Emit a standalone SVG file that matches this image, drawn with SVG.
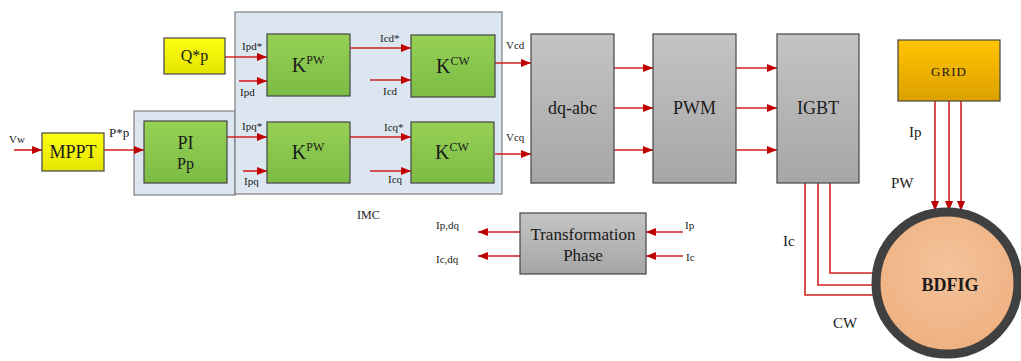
<svg xmlns="http://www.w3.org/2000/svg" width="1021" height="361" viewBox="0 0 1021 361" font-family="'Liberation Serif', serif">
<defs>
<linearGradient id="gGreen" x1="0" y1="0" x2="0" y2="1"><stop offset="0" stop-color="#96d155"/><stop offset="1" stop-color="#7cbb45"/></linearGradient>
<linearGradient id="gYellow" x1="0" y1="0" x2="0" y2="1"><stop offset="0" stop-color="#ffff10"/><stop offset="1" stop-color="#e4e400"/></linearGradient>
<linearGradient id="gGray" x1="0" y1="0" x2="0" y2="1"><stop offset="0" stop-color="#c4c4c4"/><stop offset="1" stop-color="#a6a6a6"/></linearGradient>
<linearGradient id="gGrid" x1="0" y1="0" x2="0" y2="1"><stop offset="0" stop-color="#ffc400"/><stop offset="1" stop-color="#dca000"/></linearGradient>
<radialGradient id="gMotor" cx="0.5" cy="0.4" r="0.6"><stop offset="0" stop-color="#f4c39a"/><stop offset="1" stop-color="#eeb080"/></radialGradient>
<marker id="arr" markerWidth="10" markerHeight="8" refX="10" refY="4" orient="auto" markerUnits="userSpaceOnUse"><path d="M0,0 L10,4 L0,8 Z" fill="#c00000"/></marker>
<style>
.blk{stroke:#454545;stroke-width:1.2}
.grn{fill:url(#gGreen)}
.yel{fill:url(#gYellow)}
.gry{fill:url(#gGray)}
.cont{fill:#dce6f1;stroke:#7f7f7f;stroke-width:1.2}
.ln{fill:none;stroke:#d42020;stroke-width:1.6}
.ar{fill:none;stroke:#d42020;stroke-width:1.6;marker-end:url(#arr)}
text{font-family:'Liberation Serif', serif;fill:#1a1a1a}
.big{font-size:18px}
.mid{font-size:16px}
.sm{font-size:11px}
.lab{font-size:15px}
</style>
</defs>

<g id="containers">
<rect id="pi-container" class="cont" x="134" y="111" width="101" height="84"/>
<rect id="imc" class="cont" x="235" y="12" width="267" height="182"/>
<text x="357" y="219" font-size="12">IMC</text>
</g>

<g id="connectors">
<path class="ar" d="M14,150 H42"/>
<path class="ar" d="M104,150 H144"/>
<path class="ar" d="M225,57 H267"/>
<path class="ar" d="M239,81 H267"/>
<path class="ar" d="M227,137 H267"/>
<path class="ar" d="M243,171 H267"/>
<path class="ar" d="M350,48 H411"/>
<path class="ar" d="M370,80 H411"/>
<path class="ar" d="M350,137 H411"/>
<path class="ar" d="M370,171 H411"/>
<path class="ar" d="M495,63 H531"/>
<path class="ar" d="M495,154 H531"/>
<path class="ar" d="M614,68 H653"/>
<path class="ar" d="M614,108 H653"/>
<path class="ar" d="M614,150 H653"/>
<path class="ar" d="M736,68 H777"/>
<path class="ar" d="M736,108 H777"/>
<path class="ar" d="M736,150 H777"/>
<path class="ar" d="M935,101 V211"/>
<path class="ar" d="M949,101 V211"/>
<path class="ar" d="M961,101 V211"/>
<path class="ln" d="M830,183 V273 H877"/>
<path class="ln" d="M818,183 V285 H876"/>
<path class="ln" d="M805,183 V295 H877"/>
<path class="ar" d="M520,232 H478"/>
<path class="ar" d="M520,256 H478"/>
<path class="ar" d="M683,232 H646"/>
<path class="ar" d="M683,256 H646"/>
</g>

<g id="labels">
<text x="9" y="143" class="sm">Vw</text>
<text x="109" y="137" font-size="13">P*p</text>
<text x="242" y="50" class="sm">Ipd*</text>
<text x="240" y="96" class="sm">Ipd</text>
<text x="380" y="42" class="sm">Icd*</text>
<text x="383" y="95" class="sm">Icd</text>
<text x="242" y="130" class="sm">Ipq*</text>
<text x="244" y="185" class="sm">Ipq</text>
<text x="384" y="131" class="sm">Icq*</text>
<text x="388" y="183" class="sm">Icq</text>
<text x="506" y="49" class="sm">Vcd</text>
<text x="506" y="141" class="sm">Vcq</text>
<text x="909" y="137" class="lab">Ip</text>
<text x="891" y="188" class="lab">PW</text>
<text x="783" y="246" class="lab">Ic</text>
<text x="833" y="328" class="lab">CW</text>
<text x="436" y="229" class="sm">Ip,dq</text>
<text x="436" y="263" class="sm">Ic,dq</text>
<text x="685" y="229" class="sm">Ip</text>
<text x="686" y="261" class="sm">Ic</text>
</g>

<g id="qp">
<rect class="blk yel" x="164" y="38" width="61" height="36"/>
<text x="194.5" y="61" class="mid" text-anchor="middle">Q*p</text>
</g>
<g id="mppt">
<rect class="blk yel" x="42" y="133" width="62" height="38"/>
<text x="73" y="158" class="big" text-anchor="middle">MPPT</text>
</g>
<g id="pi">
<rect class="blk grn" x="144" y="121" width="83" height="62"/>
<text x="185.5" y="149" class="big" text-anchor="middle">PI</text>
<text x="185.5" y="169" class="mid" text-anchor="middle">Pp</text>
</g>
<g id="kpw-d">
<rect class="blk grn" x="267" y="34" width="83" height="62"/>
<text x="308" y="72" text-anchor="middle" font-size="20">K<tspan font-size="12" dy="-8">PW</tspan></text>
</g>
<g id="kcw-d">
<rect class="blk grn" x="411" y="35" width="84" height="62"/>
<text x="453" y="73" text-anchor="middle" font-size="20">K<tspan font-size="12" dy="-8">CW</tspan></text>
</g>
<g id="kpw-q">
<rect class="blk grn" x="267" y="122" width="83" height="61"/>
<text x="308" y="159" text-anchor="middle" font-size="20">K<tspan font-size="12" dy="-8">PW</tspan></text>
</g>
<g id="kcw-q">
<rect class="blk grn" x="411" y="122" width="83" height="61"/>
<text x="452" y="159" text-anchor="middle" font-size="20">K<tspan font-size="12" dy="-8">CW</tspan></text>
</g>
<g id="dqabc">
<rect class="blk gry" x="531" y="34" width="83" height="149"/>
<text x="572.5" y="114" class="big" text-anchor="middle">dq-abc</text>
</g>
<g id="pwm">
<rect class="blk gry" x="653" y="34" width="83" height="149"/>
<text x="694.5" y="114" class="big" text-anchor="middle">PWM</text>
</g>
<g id="igbt">
<rect class="blk gry" x="777" y="34" width="82" height="149"/>
<text x="818" y="114" class="big" text-anchor="middle">IGBT</text>
</g>
<g id="grid">
<rect class="blk" fill="url(#gGrid)" x="898" y="40" width="102" height="61"/>
<text x="949" y="76" font-size="13" text-anchor="middle" letter-spacing="1">GRID</text>
</g>
<g id="transformation">
<rect class="blk gry" x="520" y="213" width="126" height="61"/>
<text x="583" y="240" font-size="17" text-anchor="middle">Transformation</text>
<text x="583" y="261" font-size="17" text-anchor="middle">Phase</text>
</g>
<g id="bdfig">
<circle cx="947" cy="283" r="71" fill="url(#gMotor)" stroke="#404040" stroke-width="9"/>
<text x="950" y="291" font-size="18" font-weight="bold" text-anchor="middle">BDFIG</text>
</g>
</svg>
